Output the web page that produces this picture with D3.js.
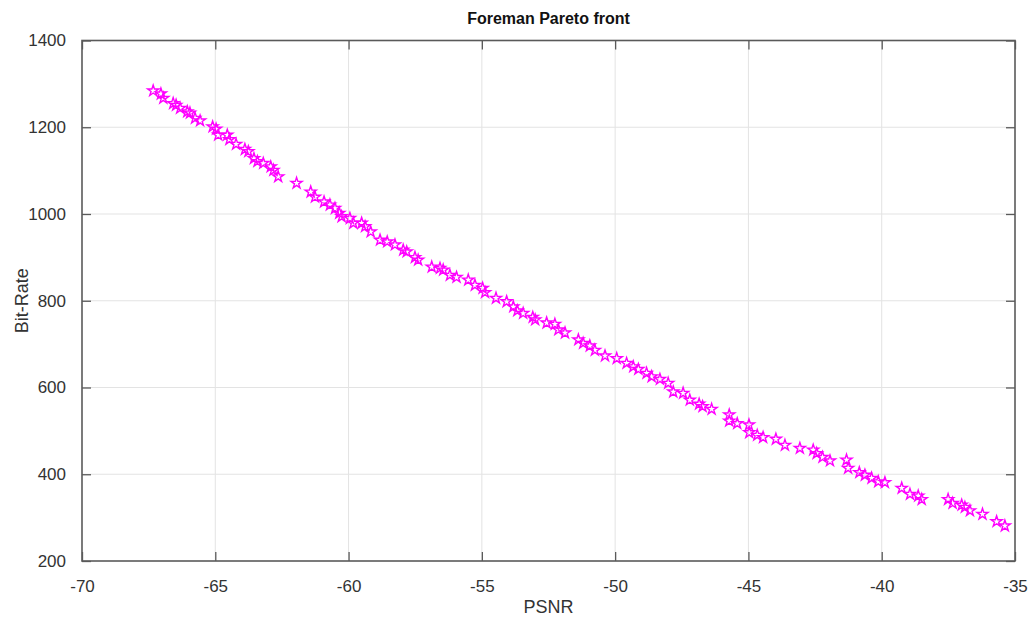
<!DOCTYPE html>
<html>
<head>
<meta charset="utf-8">
<script src="https://cdn.jsdelivr.net/npm/d3@7"></script>
<style>
  html, body { margin: 0; padding: 0; background: #fff; }
  svg { display: block; font-family: "Liberation Sans", Arial, Helvetica, sans-serif; }
</style>
</head>
<body>
<svg id="chart" width="1034" height="620"></svg>
<script>
const title = "Foreman Pareto front";
const xLabel = "PSNR";
const yLabel = "Bit-Rate";
const xTicks = [-70, -65, -60, -55, -50, -45, -40, -35];
const yTicks = [200, 400, 600, 800, 1000, 1200, 1400];
const xDomain = [-70, -35];
const yDomain = [200, 1400];

const psnr = [
  -67.33, -67.04, -66.95, -66.58, -66.47, -66.32, -66.05, -65.95, -65.76, -65.57,
  -65.10, -64.97, -64.89, -64.55, -64.47, -64.22, -63.89, -63.76, -63.55, -63.42,
  -63.20, -62.92, -62.82, -62.64, -61.95, -61.42, -61.26, -60.92, -60.70, -60.51,
  -60.35, -60.26, -59.95, -59.82, -59.51, -59.38, -59.17, -58.82, -58.55, -58.26,
  -57.95, -57.82, -57.51, -57.39, -56.88, -56.57, -56.45, -56.20, -55.95, -55.51,
  -55.26, -54.97, -54.88, -54.47, -54.07, -53.82, -53.67, -53.45, -53.09, -53.00,
  -52.57, -52.26, -52.13, -51.88, -51.38, -51.20, -50.95, -50.76, -50.38, -49.94,
  -49.57, -49.32, -49.13, -48.82, -48.63, -48.32, -48.01, -47.82, -47.45, -47.20,
  -46.85, -46.72, -46.38, -45.72, -45.72, -45.42, -44.98, -44.97, -44.67, -44.45,
  -43.97, -43.63, -43.07, -42.57, -42.44, -42.22, -41.94, -41.32, -41.26, -40.84,
  -40.63, -40.38, -40.13, -39.88, -39.25, -38.94, -38.63, -38.50, -37.51, -37.34,
  -37.00, -36.88, -36.69, -36.22, -35.69, -35.38
];
const bitRate = [
  1284, 1277, 1267, 1255, 1251, 1244, 1236, 1233, 1221, 1215,
  1201, 1196, 1182, 1182, 1172, 1161, 1149, 1144, 1128, 1121,
  1117, 1109, 1101, 1086, 1071, 1051, 1039, 1028, 1021, 1013,
  1002, 994, 990, 979, 979, 971, 959, 940, 936, 929,
  917, 913, 900, 894, 878, 875, 871, 859, 854, 848,
  836, 829, 819, 806, 798, 786, 777, 771, 762, 756,
  749, 746, 733, 726, 710, 702, 696, 686, 673, 667,
  656, 648, 642, 633, 625, 619, 610, 590, 587, 571,
  562, 556, 550, 537, 523, 517, 514, 496, 490, 485,
  481, 467, 460, 456, 448, 439, 431, 433, 414, 404,
  398, 391, 383, 381, 368, 354, 350, 342, 342, 333,
  329, 324, 316, 308, 291, 281
];

const svg = d3.select("#chart");
const margin = { left: 82, right: 19, top: 40.5, bottom: 59 };
const W = 1034, H = 620;
const x = d3.scaleLinear().domain(xDomain).range([margin.left, W - margin.right]);
const y = d3.scaleLinear().domain(yDomain).range([H - margin.bottom, margin.top]);

const axisColor = "#5a5a5a";
const textColor = "#333";
const fmt = d => String(d);

// grid
const grid = svg.append("g");
grid.selectAll("line.gx").data(xTicks.slice(1, -1)).join("line")
  .attr("x1", d => x(d)).attr("x2", d => x(d))
  .attr("y1", y.range()[1]).attr("y2", y.range()[0])
  .attr("stroke", "#e3e3e3").attr("stroke-width", 1);
grid.selectAll("line.gy").data(yTicks.slice(1, -1)).join("line")
  .attr("y1", d => y(d)).attr("y2", d => y(d))
  .attr("x1", x.range()[0]).attr("x2", x.range()[1])
  .attr("stroke", "#e3e3e3").attr("stroke-width", 1);

// axes with inward ticks on all sides
const tickLen = 9;
function styleAxis(g) {
  g.select(".domain").remove();
  g.selectAll(".tick line").attr("stroke", axisColor).attr("stroke-width", 1.3);
  g.selectAll(".tick text").attr("fill", textColor).attr("font-size", 17);
}
svg.append("g").attr("transform", `translate(0,${y.range()[0]})`)
  .call(d3.axisBottom(x).tickValues(xTicks).tickSize(-tickLen).tickPadding(19).tickFormat(fmt))
  .call(styleAxis);
svg.append("g").attr("transform", `translate(0,${y.range()[1]})`)
  .call(d3.axisTop(x).tickValues(xTicks).tickSize(-tickLen).tickFormat(""))
  .call(styleAxis);
svg.append("g").attr("transform", `translate(${x.range()[0]},0)`)
  .call(d3.axisLeft(y).tickValues(yTicks).tickSize(-tickLen).tickPadding(16).tickFormat(fmt))
  .call(styleAxis);
svg.append("g").attr("transform", `translate(${x.range()[1]},0)`)
  .call(d3.axisRight(y).tickValues(yTicks).tickSize(-tickLen).tickFormat(""))
  .call(styleAxis);

// box
svg.append("rect")
  .attr("x", x.range()[0]).attr("y", y.range()[1])
  .attr("width", x.range()[1] - x.range()[0]).attr("height", y.range()[0] - y.range()[1])
  .attr("fill", "none").attr("stroke", axisColor).attr("stroke-width", 1.6);

// markers
const star = d3.symbol().type(d3.symbolStar).size(38);
svg.append("g").selectAll("path").data(psnr.map((p, i) => [p, bitRate[i]])).join("path")
  .attr("d", star)
  .attr("transform", d => `translate(${x(d[0])},${y(d[1])})`)
  .attr("fill", "none").attr("stroke", "#ff00ff").attr("stroke-width", 1.4);

// labels
svg.append("text").attr("x", (x.range()[0] + x.range()[1]) / 2).attr("y", 24)
  .attr("text-anchor", "middle").attr("font-weight", "bold").attr("font-size", 16)
  .attr("fill", "#111").text(title);
svg.append("text").attr("x", (x.range()[0] + x.range()[1]) / 2).attr("y", 613)
  .attr("text-anchor", "middle").attr("font-size", 18).attr("fill", textColor).text(xLabel);
svg.append("text").attr("transform", `translate(28,${(y.range()[0] + y.range()[1]) / 2}) rotate(-90)`)
  .attr("text-anchor", "middle").attr("font-size", 18).attr("fill", textColor).text(yLabel);
</script>
</body>
</html>
